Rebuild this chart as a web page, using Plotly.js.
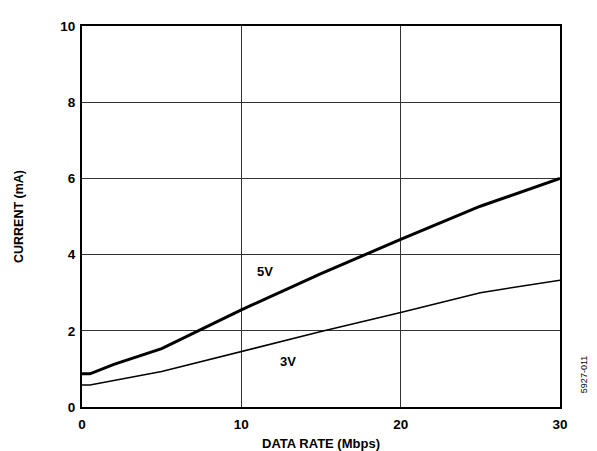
<!DOCTYPE html>
<html><head><meta charset="utf-8">
<script src="https://cdn.plot.ly/plotly-3.0.1.min.js"></script>
<style>html,body{margin:0;padding:0;background:#fff}#c{width:597px;height:451px}</style>
</head><body><div id="c"></div>
<script>
const x5V = [0, 0.5, 2, 5, 10, 15, 20, 25, 30];
const y5V = [0.87, 0.87, 1.12, 1.53, 2.55, 3.5, 4.4, 5.27, 6.0];
const x3V = [0, 0.5, 5, 10, 15, 20, 25, 30];
const y3V = [0.58, 0.58, 0.93, 1.46, 1.98, 2.48, 3.0, 3.33];
const xTicks = [0, 10, 20, 30];
const yTicks = [0, 2, 4, 6, 8, 10];
const labelText = ["5V", "3V"];
const labelX = [11.5, 12.9];
const labelY = [3.55, 1.2];

const font = {family: "Liberation Sans, Arial, sans-serif", color: "#000"};
const traces = [
  {x: x5V, y: y5V, mode: "lines", line: {color: "#000", width: 3}, hoverinfo: "skip"},
  {x: x3V, y: y3V, mode: "lines", line: {color: "#000", width: 1.5}, hoverinfo: "skip"}
];
const layout = {
  width: 597, height: 451,
  margin: {l: 82, r: 37, t: 26, b: 44},
  paper_bgcolor: "#fff", plot_bgcolor: "#fff",
  showlegend: false,
  font: Object.assign({size: 12}, font),
  xaxis: {
    range: [0, 30], tickvals: xTicks, ticktext: xTicks.map(String),
    showgrid: true, gridcolor: "#333", gridwidth: 1,
    zeroline: false, showline: true, linecolor: "#000", linewidth: 2, mirror: true,
    ticks: "", ticklabelstandoff: 4,
    tickfont: {family: font.family, size: 13.5, color: "#000", weight: "bold"},
    title: {text: "<b>DATA RATE (Mbps)</b>", font: {family: font.family, size: 13, color: "#000"}, standoff: 16}
  },
  yaxis: {
    range: [0, 10], tickvals: yTicks, ticktext: yTicks.map(String),
    showgrid: true, gridcolor: "#333", gridwidth: 1,
    zeroline: false, showline: true, linecolor: "#000", linewidth: 2, mirror: true,
    ticks: "", ticklabelstandoff: 2,
    tickfont: {family: font.family, size: 13.5, color: "#000", weight: "bold"},
    title: {text: "<b>CURRENT (mA)</b>", font: {family: font.family, size: 12.5, color: "#000"}, standoff: 34}
  },
  annotations: labelText.map((t, i) => ({
    x: labelX[i], y: labelY[i], xref: "x", yref: "y", text: "<b>" + t + "</b>",
    showarrow: false, font: {family: font.family, size: 13, color: "#000"}
  })).concat([{
    xref: "paper", yref: "paper", x: 1.065, y: 0.03, text: "5927-011", textangle: -90,
    showarrow: false, font: {family: font.family, size: 9, color: "#000"}
  }])
};
Plotly.newPlot("c", traces, layout, {staticPlot: true});
</script></body></html>
